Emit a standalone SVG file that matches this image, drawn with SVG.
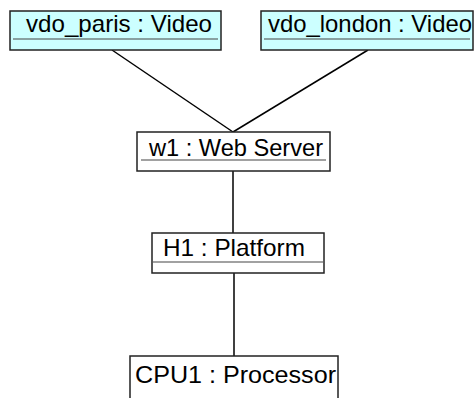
<svg xmlns="http://www.w3.org/2000/svg" width="474" height="398" viewBox="0 0 474 398">
<style>
.box{stroke:#222;stroke-width:1.5}
.vid{fill:#ccffff}
.plain{fill:#fff}
.div{stroke:#444;stroke-width:1.2}
.lbl{font-family:"Liberation Sans",Arial,sans-serif;font-size:24px;fill:#000}
.conn{stroke:#000;stroke-width:1.5;fill:none}
</style>
<g id="connectors">
<line class="conn" x1="112" y1="50" x2="233" y2="132"/>
<line class="conn" x1="368" y1="50" x2="233" y2="132"/>
<line class="conn" x1="233" y1="171" x2="233" y2="233"/>
<line class="conn" x1="234" y1="273" x2="234" y2="356"/>
</g>
<g id="vdo_paris">
<rect class="box vid" x="10" y="11" width="211" height="39"/>
<line class="div" x1="13" y1="39" x2="218" y2="39"/>
<text class="lbl" x="26" y="32" textLength="186" lengthAdjust="spacingAndGlyphs">vdo_paris : Video</text>
</g>
<g id="vdo_london">
<rect class="box vid" x="261" y="11" width="212" height="39"/>
<line class="div" x1="264" y1="39" x2="470" y2="39"/>
<text class="lbl" x="268" y="32" textLength="204" lengthAdjust="spacingAndGlyphs">vdo_london : Video</text>
</g>
<g id="w1">
<rect class="box plain" x="137" y="132" width="193" height="39"/>
<line class="div" x1="141" y1="160" x2="326" y2="160"/>
<text class="lbl" x="149" y="156" textLength="174" lengthAdjust="spacingAndGlyphs">w1 : Web Server</text>
</g>
<g id="H1">
<rect class="box plain" x="152" y="233" width="172" height="40"/>
<line class="div" x1="153" y1="262" x2="323" y2="262"/>
<text class="lbl" x="163" y="256" textLength="142" lengthAdjust="spacingAndGlyphs">H1 : Platform</text>
</g>
<g id="CPU1">
<rect class="box plain" x="130" y="356" width="208" height="50"/>
<text class="lbl" x="135" y="383" textLength="201" lengthAdjust="spacingAndGlyphs">CPU1 : Processor</text>
</g>
</svg>
